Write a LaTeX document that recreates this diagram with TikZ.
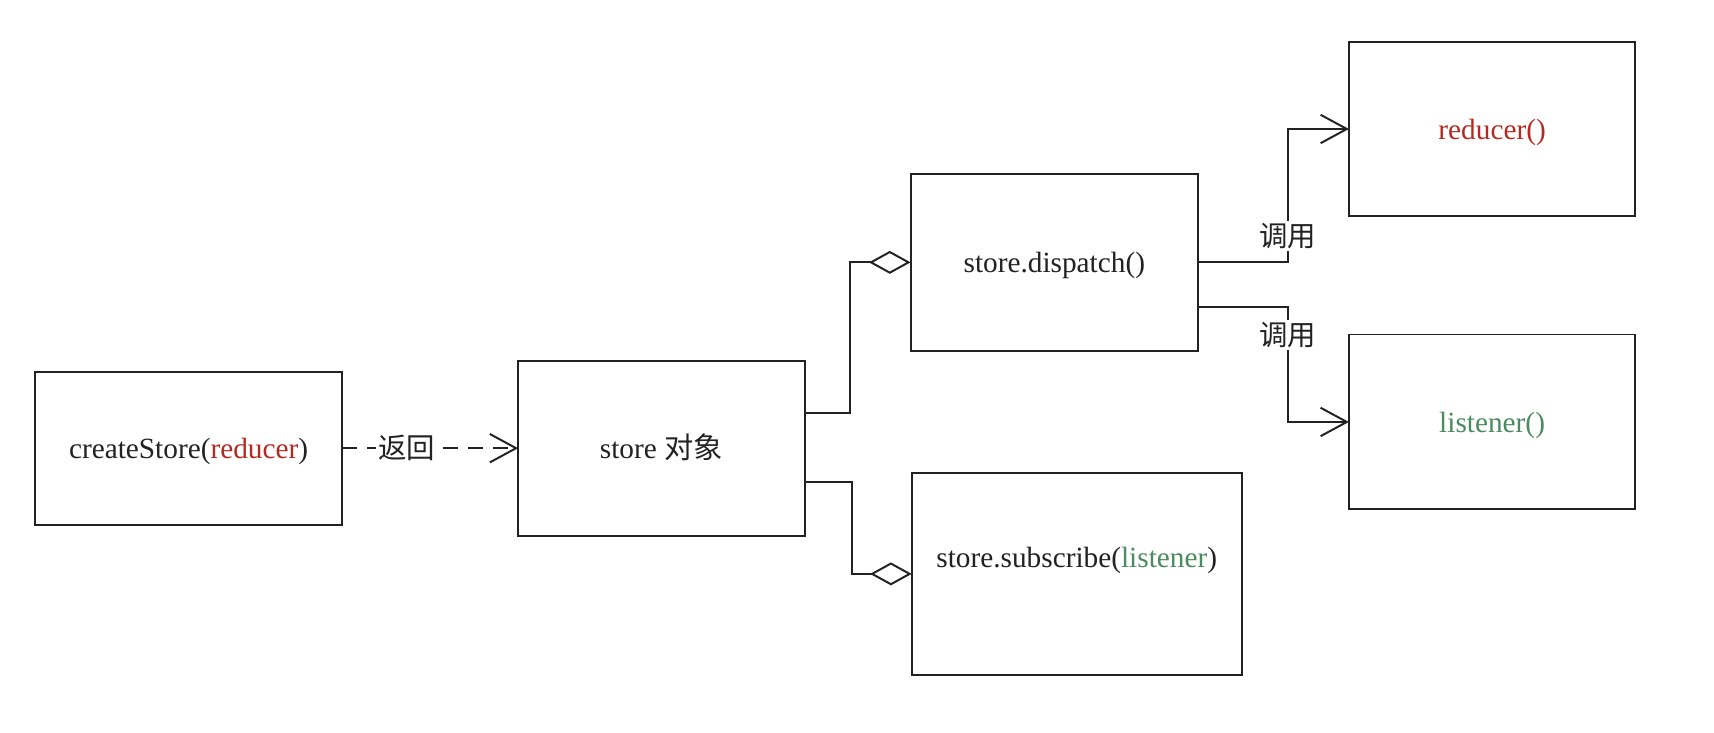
\documentclass[tikz,border=0pt]{standalone}
\usepackage{fontspec}
\setmainfont{Liberation Serif}
\newfontfamily\cjk{Noto Sans CJK SC}
\usetikzlibrary{arrows.meta,calc}
\definecolor{redtxt}{HTML}{B22A20}
\definecolor{greentxt}{HTML}{4A8C5F}
\definecolor{ink}{HTML}{222222}
\begin{document}
\begin{tikzpicture}[x=0.5pt,y=-0.5pt,
  every node/.style={font=\fontsize{13.4pt}{16pt}\selectfont, text=ink},
  box/.style={draw=ink, line width=0.9pt, rectangle, inner sep=0pt, outer sep=0pt, text height=11pt, text depth=1.5pt},
  conn/.style={draw=ink, line width=0.9pt},
  opentip/.style={-{Straight Barb[length=12pt,width=13pt,line width=0.9pt]}},
  aggtip/.style={-{Diamond[open,length=19pt,width=10.5pt,line width=0.9pt]}},
  lbl/.style={fill=white, inner sep=1pt, font=\cjk\fontsize{13pt}{15pt}\selectfont},
  retlbl/.style={fill=white, inner sep=1pt, font=\cjk\fontsize{13pt}{15pt}\selectfont}]
\useasboundingbox (0,0) rectangle (1568,670);
\fill[white] (0,0) rectangle (1568,670);

\node[box, minimum width=140.5pt, minimum height=70pt] (cs) at (172.5,410) {createStore(\textcolor{redtxt}{reducer})};
\node[box, minimum width=131pt, minimum height=80pt] (st) at (605,410) {store {\cjk 对象}};
\node[box, minimum width=131.5pt, minimum height=81pt] (dp) at (964.5,240) {store.dispatch()};
\node[box, minimum width=151pt, minimum height=92.5pt] (sb) at (985,525) {};
\node[text height=11pt, text depth=1.5pt, inner sep=0pt] (sbt) at (985,510) {store.subscribe(\textcolor{greentxt}{listener})};
\node[box, minimum width=131pt, minimum height=80pt] (rd) at (1365,118) {\textcolor{redtxt}{reducer()}};
\node[box, minimum width=131pt, minimum height=80pt] (ls) at (1365,386) {\textcolor{greentxt}{listener()}};

% createStore -> store (dashed)
\draw[conn, dash pattern=on 7pt off 4.5pt, opentip] (cs.east) -- node[pos=0.366, retlbl] {返回} (st.west);

% store -> dispatch / subscribe (aggregation)
\draw[conn, aggtip] ([yshift=16pt]st.east) -| ([xshift=-27.5pt]dp.west) -- (dp.west);
\draw[conn, aggtip] ([yshift=-15.5pt]st.east) -| ([xshift=-27.5pt]sb.west) -- (sb.west);

% dispatch -> reducer / listener
\draw[conn, opentip] (dp.east) -| node[pos=0.6, lbl] {调用} ([xshift=-28pt]rd.west) -- (rd.west);
\draw[conn, opentip] ([yshift=-20.5pt]dp.east) -| node[pos=0.62, lbl] {调用} ([xshift=-28pt]ls.west) -- (ls.west);
\end{tikzpicture}
\end{document}
